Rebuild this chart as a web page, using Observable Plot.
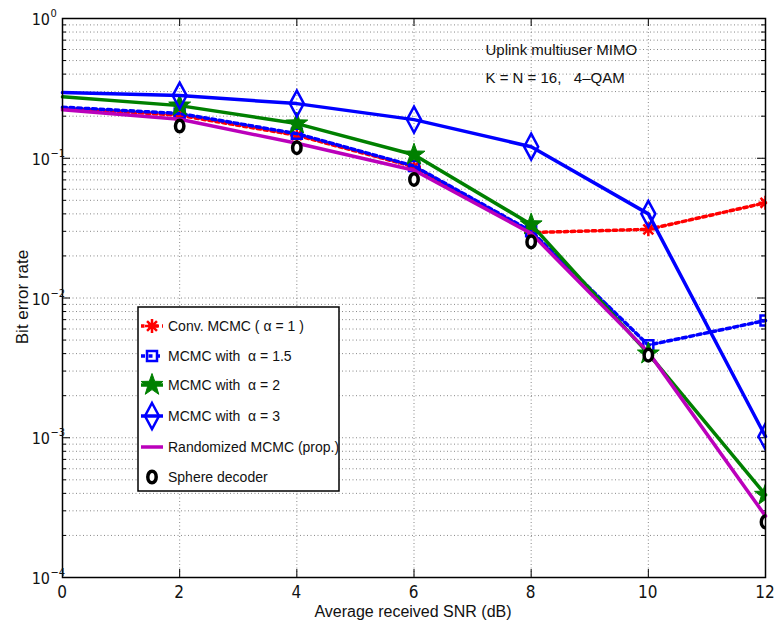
<!DOCTYPE html>
<html>
<head>
<meta charset="utf-8">
<script src="https://cdn.jsdelivr.net/npm/d3@7"></script>
<script src="https://cdn.jsdelivr.net/npm/@observablehq/plot@0.6"></script>
<style>
  html, body { margin: 0; padding: 0; background: #fff; }
  #chart { width: 774px; height: 628px; }
  svg { font-family: "Liberation Sans", Arial, sans-serif; }
</style>
</head>
<body>
<div id="chart"></div>
<script>
// ---- data ----
const snr = [0, 2, 4, 6, 8, 10, 12];
const convMCMC   = [0.228, 0.203, 0.146, 0.087, 0.0294, 0.031, 0.048];
const mcmcA15    = [0.232, 0.209, 0.150, 0.088, 0.030, 0.0046, 0.0069];
const mcmcA2     = [0.275, 0.238, 0.177, 0.106, 0.0336, 0.0040, 0.00039];
const mcmcA3     = [0.295, 0.281, 0.246, 0.189, 0.121, 0.040, 0.00102];
const randMCMC   = [0.222, 0.19, 0.128, 0.082, 0.029, 0.0041, 0.000275];
const sphere     = [null, 0.17, 0.119, 0.0705, 0.0252, 0.0039, 0.00025];

const seriesNames = [
  "Conv. MCMC ( \u03b1 = 1 )",
  "MCMC with  \u03b1 = 1.5",
  "MCMC with  \u03b1 = 2",
  "MCMC with  \u03b1 = 3",
  "Randomized MCMC (prop.)",
  "Sphere decoder"
];
const xTicks = [0, 2, 4, 6, 8, 10, 12];
const xTickLabels = ["0", "2", "4", "6", "8", "10", "12"];
const yTicks = [1e-4, 1e-3, 1e-2, 1e-1, 1];
const yTickBase = "10";
const yTickExps = ["\u22124", "\u22123", "\u22122", "\u22121", "0"];
const annotation = ["Uplink multiuser MIMO", "K = N = 16,   4\u2013QAM"];
const xTitle = "Average received SNR (dB)";
const yTitle = "Bit error rate";

const NARROW = "'Liberation Sans Narrow', 'DejaVu Sans Condensed', 'Liberation Sans', sans-serif";
const SANS = "'Liberation Sans', Arial, sans-serif";

// ---- custom MATLAB-like marker symbols ----
const symAsterisk = {draw(ctx) {
  const r = 7;
  for (let i = 0; i < 4; i++) {
    const a = i * Math.PI / 4;
    ctx.moveTo(-r * Math.cos(a), -r * Math.sin(a));
    ctx.lineTo(r * Math.cos(a), r * Math.sin(a));
  }
}};
const symSquare = {draw(ctx) { ctx.rect(-5, -5, 10, 10); }};
const symStar = {draw(ctx) {
  const R = 11.5, r = 4.6;
  for (let i = 0; i < 10; i++) {
    const rad = i % 2 === 0 ? R : r;
    const a = -Math.PI / 2 + i * Math.PI / 5;
    const px = rad * Math.cos(a), py = rad * Math.sin(a);
    if (i === 0) ctx.moveTo(px, py); else ctx.lineTo(px, py);
  }
  ctx.closePath();
}};
const symDiamond = {draw(ctx) {
  ctx.moveTo(0, -13); ctx.lineTo(7, 0); ctx.lineTo(0, 13); ctx.lineTo(-7, 0); ctx.closePath();
}};
const symRing = {draw(ctx) {
  const rx = 4.2, ry = 5.8, k = 0.5523;
  ctx.moveTo(rx, 0);
  ctx.bezierCurveTo(rx, ry * k, rx * k, ry, 0, ry);
  ctx.bezierCurveTo(-rx * k, ry, -rx, ry * k, -rx, 0);
  ctx.bezierCurveTo(-rx, -ry * k, -rx * k, -ry, 0, -ry);
  ctx.bezierCurveTo(rx * k, -ry, rx, -ry * k, rx, 0);
  ctx.closePath();
}};

const mk = (vals) => snr.map((x, i) => ({x, y: vals[i]})).filter(d => d.y != null);
const mkPts = (vals) => mk(vals).filter(d => d.x > 0);

// minor log gridlines
const minorY = [];
for (let e = -4; e < 0; e++) for (let m = 2; m <= 9; m++) minorY.push(m * Math.pow(10, e));

const RED = "#ff0000", BLUE = "#0000ff", GREEN = "#008000", MAG = "#bb00bb";

const tickLen = (px) => 12 * px / 703;
const logUp = (v, px) => v * Math.pow(10, px / 139.75);

const chart = Plot.plot({
  width: 774,
  height: 628,
  marginLeft: 62,
  marginRight: 9,
  marginTop: 18,
  marginBottom: 51,
  style: {fontFamily: SANS, background: "#fff", overflow: "visible"},
  x: {domain: [0, 12], axis: null},
  y: {type: "log", domain: [1e-4, 1], axis: null},
  marks: [
    // grid
    Plot.ruleY(minorY, {stroke: "#888", strokeDasharray: "1,2.5", strokeWidth: 1}),
    Plot.ruleY(yTicks, {stroke: "#888", strokeDasharray: "1,2.5", strokeWidth: 1}),
    Plot.ruleX(xTicks.slice(1, -1), {stroke: "#888", strokeDasharray: "1,2.5", strokeWidth: 1}),
    // inward ticks
    Plot.ruleY(yTicks, {x1: 0, x2: tickLen(8), stroke: "#000"}),
    Plot.ruleY(yTicks, {x1: 12 - tickLen(8), x2: 12, stroke: "#000"}),
    Plot.ruleY(minorY, {x1: 0, x2: tickLen(4), stroke: "#000"}),
    Plot.ruleY(minorY, {x1: 12 - tickLen(4), x2: 12, stroke: "#000"}),
    Plot.ruleX(xTicks, {y1: 1e-4, y2: logUp(1e-4, 8), stroke: "#000"}),
    Plot.ruleX(xTicks, {y1: logUp(1, -8), y2: 1, stroke: "#000"}),
    // annotation
    Plot.text([annotation[0]], {x: 7.22, y: 0.59, text: d => d, textAnchor: "start", fontSize: 15, fill: "#111"}),
    Plot.text([annotation[1]], {x: 7.22, y: 0.372, text: d => d, textAnchor: "start", fontSize: 15, fill: "#111"}),
    // series 1: Conv. MCMC
    Plot.line(mk(convMCMC), {x: "x", y: "y", stroke: RED, strokeWidth: 3.5, strokeDasharray: "3.5,3.5"}),
    Plot.dot(mkPts(convMCMC), {x: "x", y: "y", symbol: symAsterisk, stroke: RED, strokeWidth: 2.5, fill: "none", clip: true}),
    // series 2: alpha 1.5
    Plot.line(mk(mcmcA15), {x: "x", y: "y", stroke: BLUE, strokeWidth: 3.5, strokeDasharray: "4,3.5"}),
    Plot.dot(mkPts(mcmcA15), {x: "x", y: "y", symbol: symSquare, stroke: BLUE, strokeWidth: 2.5, fill: "none", clip: true}),
    // series 3: alpha 2
    Plot.line(mk(mcmcA2), {x: "x", y: "y", stroke: GREEN, strokeWidth: 3.5}),
    Plot.dot(mkPts(mcmcA2), {x: "x", y: "y", symbol: symStar, fill: GREEN, stroke: GREEN, strokeWidth: 1, clip: true}),
    // series 4: alpha 3
    Plot.line(mk(mcmcA3), {x: "x", y: "y", stroke: BLUE, strokeWidth: 3.5}),
    Plot.dot(mkPts(mcmcA3), {x: "x", y: "y", symbol: symDiamond, stroke: BLUE, strokeWidth: 2.5, fill: "none", clip: true}),
    // series 5: randomized
    Plot.line(mk(randMCMC), {x: "x", y: "y", stroke: MAG, strokeWidth: 3.5}),
    // series 6: sphere decoder
    Plot.dot(mkPts(sphere), {x: "x", y: "y", symbol: symRing, stroke: "#000", strokeWidth: 3.5, fill: "#fff", clip: true}),
    Plot.frame({stroke: "#000", strokeWidth: 1.5})
  ]
});

document.getElementById("chart").appendChild(chart);

const svg = d3.select(chart);
const sx = chart.scale("x"), sy = chart.scale("y");

// x tick labels (positions from Plot's x scale)
const gx = svg.append("g").attr("font-family", NARROW).attr("fill", "#111").attr("text-anchor", "middle");
xTicks.forEach((t, i) => {
  gx.append("text").attr("x", sx.apply(t)).attr("y", 598).style("font-size", "17px").text(xTickLabels[i]);
});

// y tick labels with real superscript exponent (positions from Plot's y scale)
const gy = svg.append("g").attr("font-family", NARROW).attr("fill", "#111");
yTicks.forEach((t, i) => {
  const py = sy.apply(t);
  gy.append("text").attr("x", 50).attr("y", py + 7).attr("text-anchor", "end")
    .style("font-size", "16px").text(yTickBase);
  gy.append("text").attr("x", 50.5).attr("y", py - 1).attr("text-anchor", "start")
    .style("font-size", "11px").text(yTickExps[i]);
});

// axis titles
svg.append("text").attr("x", 413).attr("y", 617)
  .attr("text-anchor", "middle").attr("font-family", SANS).style("font-size", "16px")
  .attr("fill", "#111").text(xTitle);
svg.append("text").attr("transform", "translate(22,297) rotate(-90)").attr("dy", "0.35em")
  .attr("text-anchor", "middle").attr("font-family", SANS).style("font-size", "17px")
  .attr("fill", "#111").text(yTitle);

// ---- legend drawn inside the plot's SVG ----
const lg = svg.append("g").attr("font-family", SANS).attr("text-anchor", "start");
const lx = 138, ly = 307, lw = 201, lh = 184;
lg.append("rect").attr("x", lx).attr("y", ly).attr("width", lw).attr("height", lh)
  .attr("fill", "#fff").attr("stroke", "#000").attr("stroke-width", 1.5);
const entries = [
  {name: seriesNames[0], color: RED, dash: "3.5,3.5", line: true, sym: symAsterisk, fill: "none", sw: 2.5},
  {name: seriesNames[1], color: BLUE, dash: "4,3.5", line: true, sym: symSquare, fill: "none", sw: 2.5},
  {name: seriesNames[2], color: GREEN, dash: null, line: true, sym: symStar, fill: GREEN, sw: 1},
  {name: seriesNames[3], color: BLUE, dash: null, line: true, sym: symDiamond, fill: "none", sw: 2.5},
  {name: seriesNames[4], color: MAG, dash: null, line: true, sym: null},
  {name: seriesNames[5], color: "#000", dash: null, line: false, sym: symRing, fill: "#fff", sw: 3.5}
];
const rowY = [326, 356, 385, 416, 447, 477];
entries.forEach((e, i) => {
  const y = rowY[i];
  if (e.line) {
    lg.append("line").attr("x1", 141).attr("x2", 163).attr("y1", y).attr("y2", y)
      .attr("stroke", e.color).attr("stroke-width", 3.5)
      .attr("stroke-dasharray", e.dash);
  }
  if (e.sym) {
    lg.append("path").attr("d", d3.symbol().type(e.sym)()).attr("transform", `translate(152,${y})`)
      .attr("stroke", e.color).attr("stroke-width", e.sw).attr("fill", e.fill);
  }
  lg.append("text").attr("x", 168).attr("y", y).attr("dy", "0.35em")
    .style("font-size", "14px").attr("fill", "#111").text(e.name);
});
</script>
</body>
</html>
